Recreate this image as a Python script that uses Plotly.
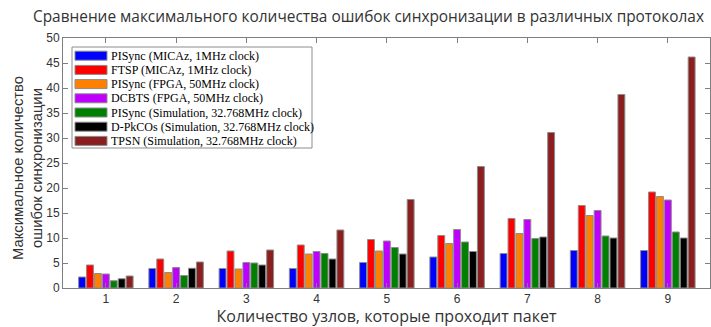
import plotly.graph_objects as go

# Hop counts (number of nodes the packet passes through)
hops = [1, 2, 3, 4, 5, 6, 7, 8, 9]

# Maximum synchronization error per protocol
pisync_micaz = [2.2, 3.9, 3.9, 3.9, 5.1, 6.2, 6.9, 7.5, 7.5]
ftsp_micaz = [4.6, 5.8, 7.4, 8.6, 9.7, 10.5, 13.9, 16.5, 19.2]
pisync_fpga = [2.9, 3.1, 3.8, 6.8, 7.4, 8.9, 10.9, 14.5, 18.3]
dcbts_fpga = [2.8, 4.1, 5.1, 7.3, 9.4, 11.7, 13.7, 15.5, 17.6]
pisync_sim = [1.45, 2.5, 5.0, 6.9, 8.1, 9.2, 9.9, 10.4, 11.2]
dpkcos_sim = [1.85, 3.95, 4.6, 5.8, 6.8, 7.3, 10.2, 10.0, 10.0]
tpsn_sim = [2.4, 5.2, 7.6, 11.6, 17.7, 24.3, 31.1, 38.7, 46.2]

series_names = [
    "PISync (MICAz, 1MHz clock)",
    "FTSP (MICAz, 1MHz clock)",
    "PISync (FPGA, 50MHz clock)",
    "DCBTS (FPGA, 50MHz clock)",
    "PISync (Simulation, 32.768MHz clock)",
    "D-PkCOs (Simulation, 32.768MHz clock)",
    "TPSN (Simulation, 32.768MHz clock)",
]
series_values = [pisync_micaz, ftsp_micaz, pisync_fpga, dcbts_fpga,
                 pisync_sim, dpkcos_sim, tpsn_sim]
series_colors = ["#0000FF", "#FF0000", "#FF8000", "#BF00FF",
                 "#008000", "#000000", "#8B1E1E"]

y_ticks = [0, 5, 10, 15, 20, 25, 30, 35, 40, 45, 50]

fig = go.Figure()
for name, vals, col in zip(series_names, series_values, series_colors):
    fig.add_trace(go.Bar(
        x=hops, y=vals, name=name,
        marker=dict(color=col, line=dict(color="#8c8c8c", width=1)),
        showlegend=False,
    ))

# Boxed legend with wide colour swatches
lx0, lx1, ly0, ly1 = 72, 312, 47, 148
W, H = 711, 327
L, R, T, B = 63, 1, 38, 39
pw, ph = W - L - R, H - T - B


def px_x(px):
    return (px - L) / pw


def px_y(py):
    return 1 - (py - T) / ph


shapes = [dict(type="rect", xref="paper", yref="paper",
               x0=px_x(lx0), x1=px_x(lx1), y0=px_y(ly1), y1=px_y(ly0),
               line=dict(color="#8c8c8c", width=1), fillcolor="white", layer="above")]
annotations = []
row_h = 14.2
for i, (name, col) in enumerate(zip(series_names, series_colors)):
    cy = 55.7 + i * row_h
    shapes.append(dict(type="rect", xref="paper", yref="paper",
                       x0=px_x(75), x1=px_x(107), y0=px_y(cy + 4.5), y1=px_y(cy - 4.5),
                       line=dict(color="#8c8c8c", width=1), fillcolor=col, layer="above"))
    annotations.append(dict(xref="paper", yref="paper", x=px_x(109), y=px_y(cy),
                            text=name, showarrow=False, xanchor="left", yanchor="middle",
                            font=dict(family="Liberation Serif", size=12, color="#000000")))

annotations.append(dict(
    xref="paper", yref="paper", x=px_x(27), y=px_y(168),
    text="Максимальное количество<br>ошибок синхронизации",
    showarrow=False, textangle=-90, xanchor="center", yanchor="middle",
    font=dict(family="Liberation Sans", size=14.8, color="#333333"),
))

fig.update_layout(
    width=W, height=H,
    margin=dict(l=L, r=R, t=T, b=B),
    paper_bgcolor="white", plot_bgcolor="white",
    barmode="group", bargap=0.21, bargroupgap=0.13,
    title=dict(
        text="Сравнение максимального количества ошибок синхронизации в различных протоколах",
        x=(31 + 706) / 2 / W, xanchor="center", y=1 - 17 / H, yanchor="middle",
        font=dict(family="Open Sans", size=15.4, color="#333333"),
    ),
    xaxis=dict(
        range=[0.39, 9.6], tickmode="array", tickvals=hops,
        ticks="inside", ticklen=5, tickcolor="#7f7f7f",
        showline=True, linecolor="#7f7f7f", linewidth=1, mirror="ticks",
        showgrid=False, zeroline=False,
        tickfont=dict(family="Liberation Sans", size=12, color="#333333"),
        title=dict(text="Количество узлов, которые проходит пакет", standoff=8,
                   font=dict(family="Open Sans", size=16, color="#333333")),
    ),
    yaxis=dict(
        range=[0, 50], tickmode="array", tickvals=y_ticks,
        ticks="inside", ticklen=5, tickcolor="#7f7f7f",
        showline=True, linecolor="#7f7f7f", linewidth=1, mirror="ticks",
        showgrid=False, zeroline=False,
        tickfont=dict(family="Liberation Sans", size=12, color="#333333"),
    ),
    shapes=shapes,
    annotations=annotations,
)

fig.write_html("out.html")
